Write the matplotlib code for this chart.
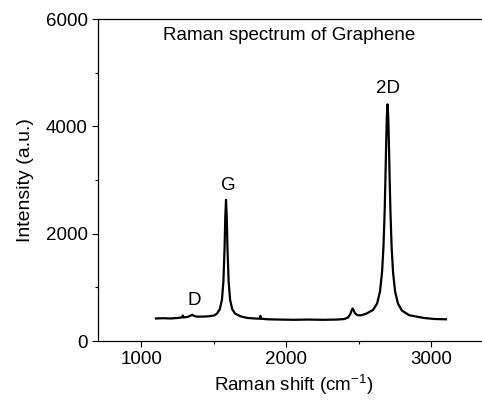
import matplotlib
matplotlib.use("Agg")
import matplotlib.pyplot as plt
from matplotlib.ticker import MultipleLocator

plt.rcParams['font.family'] = ['Liberation Sans', 'DejaVu Sans']
plt.rcParams['mathtext.fontset'] = 'custom'
plt.rcParams['mathtext.rm'] = 'Liberation Sans'
plt.rcParams['mathtext.default'] = 'regular'

# spectrum (Raman shift, intensity)
shift = [1100, 1150, 1200, 1250, 1280, 1285, 1290, 1320, 1340, 1350, 1360, 1380,
         1420, 1460, 1500, 1520, 1540, 1555, 1565, 1573, 1578, 1583, 1588, 1593,
         1601, 1611, 1626, 1646, 1683, 1730, 1780, 1815, 1820, 1825, 1870, 1950,
         2050, 2150, 2250, 2350, 2400, 2425, 2440, 2450, 2456, 2462, 2472, 2490,
         2515, 2547, 2597, 2625, 2645, 2659, 2669, 2677, 2682, 2687, 2692, 2697,
         2702, 2707, 2712, 2717, 2725, 2735, 2749, 2769, 2797, 2847, 2947, 3020,
         3100]
intensity = [420, 425, 420, 430, 440, 475, 440, 450, 475, 490, 470, 455,
             455, 460, 475, 510, 590, 770, 1110, 1730, 2310, 2630, 2310, 1730,
             1110, 770, 590, 510, 460, 430, 420, 415, 470, 415, 405, 400,
             395, 400, 395, 400, 410, 440, 500, 575, 605, 580, 520, 480,
             480, 505, 580, 700, 925, 1280, 1760, 2410, 2970, 3610, 4175, 4410,
             4175, 3610, 2970, 2410, 1760, 1280, 925, 697, 565, 480, 430, 410,
             405]

peak_names = ['D', 'G', '2D']
peak_x = [1365, 1600, 2697]
peak_y = [764, 2907, 4714]

fs = 13.5

fig = plt.figure(figsize=(4.82, 4.04), dpi=100)
ax = fig.add_axes([0.2033, 0.1559, 0.8122, 0.797])

ax.plot(shift, intensity, color='black', lw=1.6)

for name, px, py in zip(peak_names, peak_x, peak_y):
    ax.text(px, py, name, ha='center', va='center', fontsize=fs)
ax.text(2020, 5700, 'Raman spectrum of Graphene', ha='center', va='center', fontsize=fs)

ax.set_xlim(700, 3400)
ax.set_ylim(0, 6000)
ax.xaxis.set_major_locator(MultipleLocator(1000))
ax.xaxis.set_minor_locator(MultipleLocator(500))
ax.yaxis.set_major_locator(MultipleLocator(2000))
ax.yaxis.set_minor_locator(MultipleLocator(1000))
ax.tick_params(which='major', direction='out', length=4.5, width=0.8, labelsize=fs, pad=3)
ax.tick_params(which='minor', direction='out', length=2.5, width=0.8)

ax.set_xlabel('Raman shift (cm$^{-1}$)', fontsize=fs, labelpad=3)
ax.set_ylabel('Intensity (a.u.)', fontsize=14, labelpad=8)

ax.spines['right'].set_visible(False)
for s in ax.spines.values():
    s.set_linewidth(0.9)

fig.savefig('out.png', dpi=100)
